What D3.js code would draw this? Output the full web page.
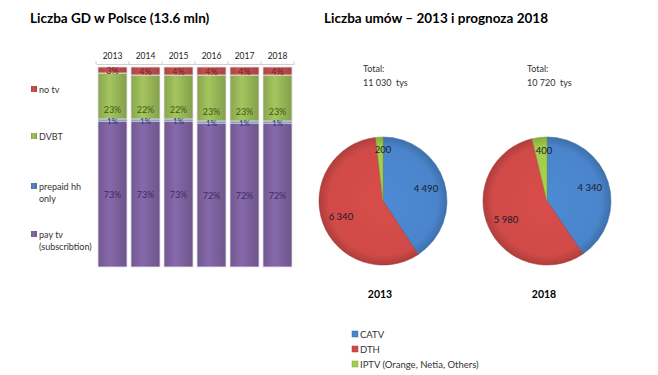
<!DOCTYPE html>
<html>
<head>
<meta charset="utf-8">
<script src="https://cdn.jsdelivr.net/npm/d3@7"></script>
<style>
  body { margin: 0; background: #fff; }
  text { font-family: Lato, "Open Sans", sans-serif; }
</style>
</head>
<body>
<div id="wrapper"></div>
<script>
// data
const years = ["2013", "2014", "2015", "2016", "2017", "2018"]
const payTv = [73, 73, 73, 72, 72, 72]
const prepaid = [1, 1, 1, 1, 1, 1]
const dvbt = [23, 22, 22, 23, 23, 23]
const noTv = [3, 4, 4, 4, 4, 4]
const barSeries = ["pay tv (subscribtion)", "prepaid hh only", "DVBT", "no tv"]

const pieYears = ["2013", "2018"]
const pieTotals = ["11 030", "10 720"]
const pieCategories = ["CATV", "DTH", "IPTV (Orange, Netia, Others)"]
const catv = [4490, 4340]
const dth = [6340, 5980]
const iptv = [200, 400]

const width = 658
const height = 375

const wrapper = d3.select("#wrapper")
    .append("svg")
    .attr("width", width)
    .attr("height", height)

const defs = wrapper.append("defs")

// colors (base, dark for labels)
const barColors = ["#8064A2", "#4F81BD", "#9BBB59", "#C0504D"]
const barLabelColors = ["#3f2a5c", "#1f3a66", "#3d5a14", "#6e1f1c"]
const pieColors = ["#4A85CC", "#D04A47", "#A3CC4A"]

// horizontal gradient for bars (3D cylinder look)
barColors.forEach((c, i) => {
    const g = defs.append("linearGradient")
        .attr("id", "bar-grad-" + i)
        .attr("x1", "0%").attr("x2", "100%")
    g.append("stop").attr("offset", "0%").attr("stop-color", d3.color(c).darker(0.35))
    g.append("stop").attr("offset", "40%").attr("stop-color", d3.color(c).brighter(0.15))
    g.append("stop").attr("offset", "100%").attr("stop-color", d3.color(c).darker(0.45))
})

// titles
wrapper.append("text")
    .attr("x", 30).attr("y", 23)
    .style("font-size", "13.5px").style("font-weight", "bold")
    .text("Liczba GD w Polsce (13.6 mln)")

wrapper.append("text")
    .attr("x", 324).attr("y", 23)
    .style("font-size", "13.5px").style("font-weight", "bold")
    .text("Liczba umów – 2013 i prognoza 2018")

// ---- stacked bars ----
const xScale = d3.scaleBand()
    .domain(years)
    .range([96, 294])
    .paddingInner(0.12)
    .paddingOuter(0.06)

const yScale = d3.scaleLinear()
    .domain([0, 100])
    .range([267, 67])

const stackData = years.map((y, i) => ({
    year: y,
    "pay tv (subscribtion)": payTv[i],
    "prepaid hh only": prepaid[i],
    "DVBT": dvbt[i],
    "no tv": noTv[i],
}))
const stacked = d3.stack().keys(barSeries)(stackData)

// top axis line
const xAxis = wrapper.append("g")
    .attr("transform", "translate(0,64)")
    .call(d3.axisTop(xScale).tickSize(0).tickPadding(5))
xAxis.select(".domain").attr("stroke", "#d0d0d0")
xAxis.selectAll("text")
    .style("font-family", "Lato, sans-serif")
    .style("font-size", "8.5px")
    .attr("fill", "#222")
xAxis.selectAll(".sep")
    .data(d3.range(years.length + 1))
    .join("line")
    .attr("class", "sep")
    .attr("x1", i => 96 + i * xScale.step())
    .attr("x2", i => 96 + i * xScale.step())
    .attr("y1", 0).attr("y2", -3)
    .attr("stroke", "#d0d0d0")

const barsGroup = wrapper.append("g")
stacked.forEach((layer, si) => {
    barsGroup.selectAll(".seg-" + si)
        .data(layer)
        .join("rect")
        .attr("class", "seg-" + si)
        .attr("x", d => xScale(d.data.year))
        .attr("width", xScale.bandwidth())
        .attr("y", d => yScale(d[1]))
        .attr("height", d => yScale(d[0]) - yScale(d[1]))
        .attr("fill", `url(#bar-grad-${si})`)
        .attr("stroke", "#e8e4f0")
        .attr("stroke-width", 0.8)
})

// bar labels
stacked.forEach((layer, si) => {
    barsGroup.selectAll(".lab-" + si)
        .data(layer)
        .join("text")
        .attr("class", "lab-" + si)
        .attr("x", d => xScale(d.data.year) + xScale.bandwidth() / 2)
        .attr("y", d => {
            if (si === 2) return yScale(d[0]) - 10
            if (si === 1) return yScale(d[0]) - 0.5
            return (yScale(d[0]) + yScale(d[1])) / 2
        })
        .attr("text-anchor", "middle")
        .attr("dominant-baseline", "central")
        .style("font-size", si === 1 ? "8px" : "9px")
        .attr("fill", barLabelColors[si])
        .text(d => (d[1] - d[0]) + "%")
})

// left legend
const leftLegend = [
    { lines: ["no tv"], y: 89, c: 3 },
    { lines: ["DVBT"], y: 136, c: 2 },
    { lines: ["prepaid hh", "only"], y: 186, c: 1 },
    { lines: ["pay tv", "(subscribtion)"], y: 234, c: 0 },
]
const legendG = wrapper.append("g")
leftLegend.forEach(d => {
    legendG.append("rect")
        .attr("x", 31).attr("y", d.y - 3)
        .attr("width", 6).attr("height", 6)
        .attr("fill", `url(#bar-grad-${d.c})`)
    d.lines.forEach((t, j) => {
        legendG.append("text")
            .attr("x", 39).attr("y", d.y + j * 12)
            .attr("dominant-baseline", "central")
            .style("font-size", "9px")
            .attr("fill", "#333")
            .text(t)
    })
})

// ---- pies ----
pieColors.forEach((c, i) => {
    const g = defs.append("radialGradient")
        .attr("id", "pie-grad-" + i)
        .attr("gradientUnits", "userSpaceOnUse")
        .attr("cx", 0).attr("cy", 0).attr("r", 64)
    g.append("stop").attr("offset", "0%").attr("stop-color", d3.color(c).brighter(0.1))
    g.append("stop").attr("offset", "85%").attr("stop-color", c)
    g.append("stop").attr("offset", "100%").attr("stop-color", d3.color(c).darker(0.5))
})

const radius = 64
const pieCenters = [383, 547]
const pieCy = 201
const pie = d3.pie().sort(null).value(d => d.value)
const arc = d3.arc().innerRadius(0).outerRadius(radius)
const labelArc = d3.arc().innerRadius(radius * 0.7).outerRadius(radius * 0.7)
const smallArc = d3.arc().innerRadius(radius * 0.8).outerRadius(radius * 0.8)

pieYears.forEach((yr, pi) => {
    const values = [
        { cat: pieCategories[0], value: catv[pi], c: 0 },
        { cat: pieCategories[1], value: dth[pi], c: 1 },
        { cat: pieCategories[2], value: iptv[pi], c: 2 },
    ]
    const g = wrapper.append("g")
        .attr("transform", `translate(${pieCenters[pi]},${pieCy})`)

    g.selectAll("path")
        .data(pie(values))
        .join("path")
        .attr("d", arc)
        .attr("fill", d => `url(#pie-grad-${d.data.c})`)
        .attr("stroke", d => d3.color(pieColors[d.data.c]).darker(0.6))
        .attr("stroke-width", 0.6)

    g.selectAll(".pie-label")
        .data(pie(values))
        .join("text")
        .attr("class", "pie-label")
        .attr("transform", d => {
            const p = d.data.c === 2 ? smallArc.centroid(d) : labelArc.centroid(d)
            return `translate(${p[0] + (d.data.c === 2 ? 3 : 0)},${p[1]})`
        })
        .attr("text-anchor", "middle")
        .attr("dominant-baseline", "central")
        .style("font-size", "9.5px")
        .attr("fill", "#1a1a2a")
        .text(d => d3.format(",")(d.data.value).replace(",", " "))

    wrapper.append("text")
        .attr("x", pieCenters[pi] - 3).attr("y", 294)
        .attr("text-anchor", "middle")
        .attr("dominant-baseline", "central")
        .style("font-size", "10.5px").style("font-weight", "bold")
        .text(yr)

    const tx = pieCenters[pi] - 20
    wrapper.append("text")
        .attr("x", tx).attr("y", 68)
        .attr("dominant-baseline", "central")
        .style("font-size", "9px").attr("fill", "#333")
        .text("Total:")
    wrapper.append("text")
        .attr("x", tx).attr("y", 82)
        .attr("dominant-baseline", "central")
        .style("font-size", "9px").attr("fill", "#333")
        .style("white-space", "pre")
        .text(pieTotals[pi] + "  tys")
})

// bottom legend
const bottomLegend = wrapper.append("g")
pieCategories.forEach((cat, i) => {
    const y = 334 + i * 15
    bottomLegend.append("rect")
        .attr("x", 352).attr("y", y - 3)
        .attr("width", 6).attr("height", 6)
        .attr("fill", pieColors[i])
        .attr("stroke", d3.color(pieColors[i]).darker(0.6))
        .attr("stroke-width", 0.5)
    bottomLegend.append("text")
        .attr("x", 360).attr("y", y)
        .attr("dominant-baseline", "central")
        .style("font-size", "9.5px").attr("fill", "#333")
        .text(cat)
})
</script>
</body>
</html>
